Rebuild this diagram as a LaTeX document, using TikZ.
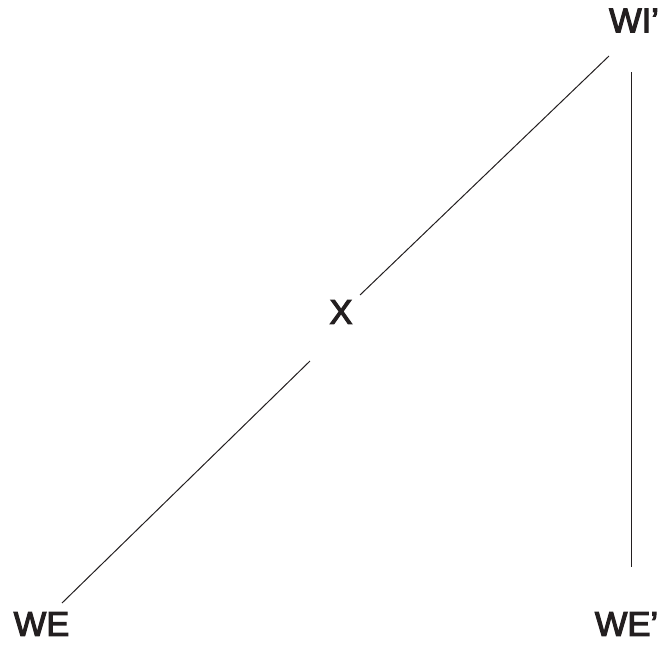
\documentclass[tikz,border=0pt]{standalone}
\usepackage{fontspec}
\setmainfont{Liberation Sans}
\newfontfamily\lblfont[FakeBold=3.2]{Liberation Sans}
\usetikzlibrary{calc}
\definecolor{ink}{HTML}{231F20}
\begin{document}
\begin{tikzpicture}[x=1pt,y=-1pt,
  lbl/.style={inner sep=0pt,text=ink,font=\lblfont\fontsize{34.5}{34.5}\selectfont},
  conn/.style={draw=ink,line width=1pt}]
\useasboundingbox (0,0) rectangle (671,645);
\node[lbl] (WI) at (634,20.5) {WI’};
\node[lbl] (WE) at (41.5,624) {WE};
\node[lbl] (WEp) at (626.5,624) {WE’};
\node[lbl] (X) at (341,312) {X};
\draw[conn] ($(WE.center)+(20.5,-21)$) -- ($(X.center)+(-31,49)$);
\draw[conn] ($(X.center)+(19,-17)$) -- ($(WI.center)+(-25,35.5)$);
\draw[conn] ($(WI.center)+(-2.5,51.5)$) -- ($(WEp.center)+(5,-57)$);
\end{tikzpicture}
\end{document}
